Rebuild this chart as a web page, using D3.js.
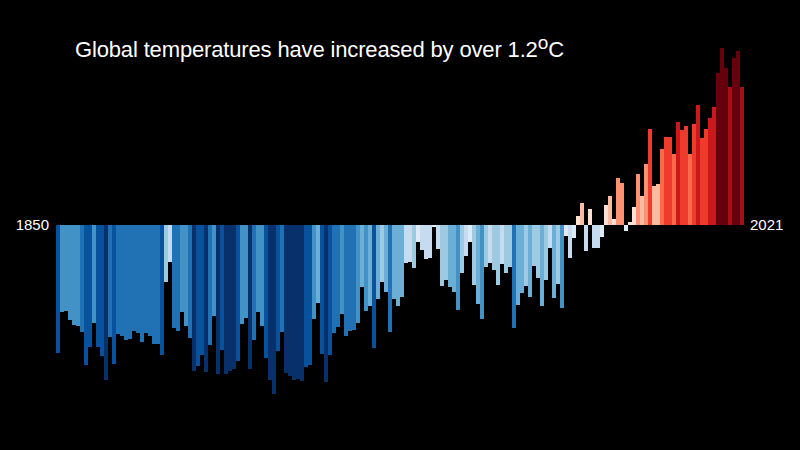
<!DOCTYPE html>
<html>
<head>
<meta charset="utf-8">
<script src="https://cdn.jsdelivr.net/npm/d3@7"></script>
<style>
  html, body { margin: 0; padding: 0; background: #000; }
  svg { display: block; }
</style>
</head>
<body>
<div id="chart"></div>
<script>
// Data: annual temperature anomaly (°C), 1850-2021
const firstYear = 1850;
const lastYear = 2021;
const anomalies = [
  -0.536, -0.364, -0.361, -0.399, -0.418, -0.422, -0.446, -0.583, -0.511, -0.410,
  -0.511, -0.549, -0.649, -0.468, -0.582, -0.455, -0.464, -0.480, -0.475, -0.443,
  -0.453, -0.490, -0.453, -0.465, -0.495, -0.497, -0.543, -0.240, -0.155, -0.430,
  -0.442, -0.364, -0.424, -0.471, -0.608, -0.589, -0.542, -0.614, -0.501, -0.380,
  -0.622, -0.524, -0.622, -0.610, -0.600, -0.567, -0.413, -0.390, -0.601, -0.479,
  -0.365, -0.420, -0.557, -0.646, -0.707, -0.528, -0.446, -0.618, -0.629, -0.649,
  -0.643, -0.650, -0.592, -0.585, -0.392, -0.326, -0.540, -0.654, -0.543, -0.451,
  -0.426, -0.371, -0.464, -0.443, -0.439, -0.410, -0.260, -0.360, -0.339, -0.514,
  -0.311, -0.240, -0.282, -0.447, -0.310, -0.338, -0.303, -0.161, -0.155, -0.182,
  -0.074, -0.105, -0.142, -0.138, -0.010, -0.101, -0.255, -0.230, -0.260, -0.279,
  -0.357, -0.201, -0.129, -0.071, -0.253, -0.329, -0.392, -0.176, -0.161, -0.188,
  -0.253, -0.164, -0.203, -0.178, -0.432, -0.335, -0.285, -0.254, -0.301, -0.171,
  -0.222, -0.338, -0.230, -0.097, -0.305, -0.247, -0.347, -0.047, -0.138, -0.057,
   0.038,  0.092, -0.110,  0.067, -0.099, -0.096, -0.053,  0.083,  0.121,  0.024,
   0.195,  0.175, -0.025,  0.011,  0.075,  0.211,  0.118,  0.253,  0.400,  0.161,
   0.168,  0.317,  0.367,  0.367,  0.296,  0.426,  0.396,  0.413,  0.293,  0.418,
   0.497,  0.363,  0.400,  0.443,  0.489,  0.633,  0.735,  0.651,  0.574,  0.695,
   0.724,  0.574
];
const years = d3.range(firstYear, lastYear + 1);
const data = years.map((year, i) => ({ year: year, value: anomalies[i] }));

const titleText = "Global temperatures have increased by over 1.2";

// Stripe palette (ColorBrewer Blues / Reds)
const stripeColors = [
  "#08306b", "#08519c", "#2171b5", "#4292c6", "#6baed6", "#9ecae1", "#c6dbef", "#deebf7",
  "#fee0d2", "#fcbba1", "#fc9272", "#fb6a4a", "#ef3b2c", "#cb181d", "#a50f15", "#67000d"
];

const width = 800;
const height = 450;

const svg = d3.select("#chart")
  .append("svg")
  .attr("width", width)
  .attr("height", height);

svg.append("rect")
  .attr("width", width)
  .attr("height", height)
  .attr("fill", "#000");

// Scales
const x = d3.scaleBand()
  .domain(years)
  .range([56, 744])
  .padding(0);

const y = d3.scaleLinear()
  .domain([-0.75, 0.75])
  .range([404.7, 44.7]);

const color = d3.scaleThreshold()
  .domain(d3.range(-7, 8).map(k => k * 0.085))
  .range(stripeColors);

// Bars
svg.append("g")
  .selectAll("rect")
  .data(data)
  .enter()
  .append("rect")
  .attr("x", d => x(d.year))
  .attr("width", x.bandwidth() + 0.3)
  .attr("y", d => y(Math.max(0, d.value)))
  .attr("height", d => Math.abs(y(d.value) - y(0)))
  .attr("fill", d => color(d.value))
  .attr("shape-rendering", "crispEdges");

// Year labels at each end
svg.append("text")
  .attr("x", x(firstYear) - 7)
  .attr("y", y(0))
  .attr("dy", "0.35em")
  .attr("text-anchor", "end")
  .attr("fill", "#fff")
  .style("font-family", "'Liberation Sans', Arial, sans-serif")
  .style("font-size", "15px")
  .text(firstYear);

svg.append("text")
  .attr("x", x(lastYear) + x.bandwidth() + 6)
  .attr("y", y(0))
  .attr("dy", "0.35em")
  .attr("text-anchor", "start")
  .attr("fill", "#fff")
  .style("font-family", "'Liberation Sans', Arial, sans-serif")
  .style("font-size", "15px")
  .text(lastYear);

// Title with raised degree "o"
const title = svg.append("text")
  .attr("x", 75)
  .attr("y", 57)
  .attr("fill", "#fff")
  .style("font-family", "'Liberation Sans', Arial, sans-serif")
  .style("font-size", "22px")
  .style("letter-spacing", "-0.15px");

title.append("tspan").text(titleText);
title.append("tspan").attr("dy", -8).style("font-size", "19px").text("o");
title.append("tspan").attr("dy", 8).text("C");
</script>
</body>
</html>
